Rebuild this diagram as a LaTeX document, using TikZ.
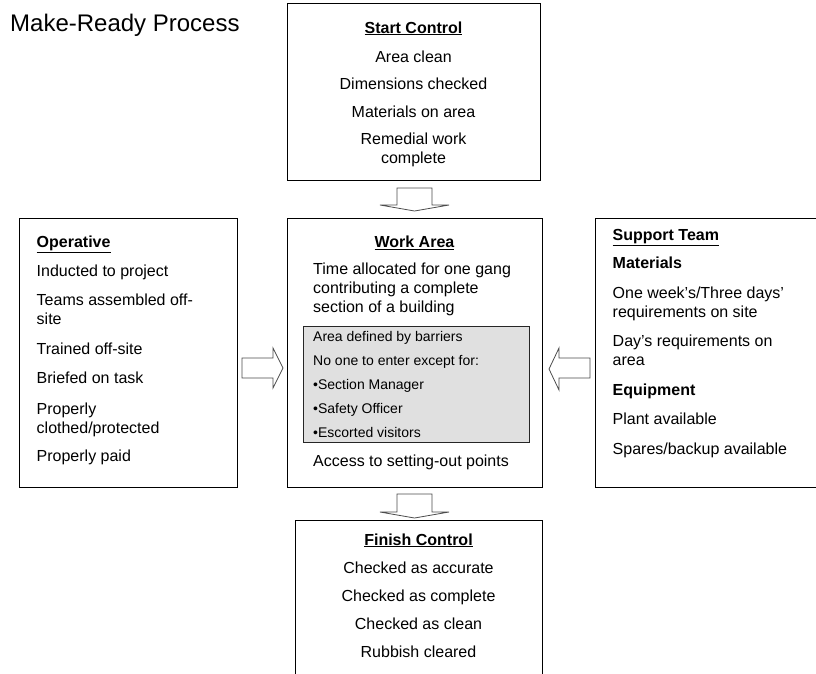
\documentclass[tikz,border=0pt]{standalone}
\usepackage{fontspec}
\setmainfont{Liberation Sans}
\definecolor{graybg}{RGB}{224,224,224}
\begin{document}
\begin{tikzpicture}[x=1pt,y=-1pt,
  box/.style={draw=black, line width=0.9pt, fill=white, inner sep=0pt, anchor=north west},
  shadebox/.style={draw=black!85, line width=0.8pt, fill=graybg, inner sep=0pt, anchor=north west},
  blockarrow/.style={draw=black!70, line width=0.8pt, fill=white, line join=miter},
  ctxt/.style={font=\fontsize{16}{19}\selectfont, inner sep=0pt, align=center, anchor=base},
  ltxt/.style={font=\fontsize{16}{19}\selectfont, inner sep=0pt, align=left, anchor=base west},
  stxt/.style={font=\fontsize{14}{17}\selectfont, inner sep=0pt, align=left, anchor=base west},
  ttl/.style={font=\fontsize{24}{28}\selectfont, inner sep=0pt, anchor=base west}]
\useasboundingbox (0,0) rectangle (816,673);

% title
\node[ttl] (title) at (10,31) {Make-Ready Process};

% boxes
\node[box, minimum width=253pt, minimum height=177pt] (start) at (287,3) {};
\node[box, minimum width=255pt, minimum height=269pt] (work) at (287,218) {};
\node[box, minimum width=218pt, minimum height=269pt] (oper) at (19,218) {};
\node[box, minimum width=230pt, minimum height=269pt] (supp) at (595,218) {};
\node[box, minimum width=247pt, minimum height=170pt] (fin) at (295,520) {};
\node[shadebox, minimum width=226pt, minimum height=116pt] (gray) at (303,326) {};

% block arrows
\draw[blockarrow] (397,188) -- (432,188) -- (432,205) -- (449,205) -- (414.5,211)
  -- (380,205) -- (397,205) -- cycle;
\draw[blockarrow] (397,494) -- (432,494) -- (432,512) -- (449,512) -- (414.5,518)
  -- (380,512) -- (397,512) -- cycle;
\draw[blockarrow] (242,358) -- (273,358) -- (273,348) -- (283,368) -- (273,388)
  -- (273,378) -- (242,378) -- cycle;
\draw[blockarrow] (590,358) -- (559,358) -- (559,348) -- (549,369) -- (559,390)
  -- (559,378) -- (590,378) -- cycle;

% Start Control
\node[ctxt] (s0) at (413.5,33) {\underline{\textbf{Start Control}}};
\node[ctxt] (s1) at (413.5,62) {Area clean};
\node[ctxt] (s2) at (413.5,89.5) {Dimensions checked};
\node[ctxt] (s3) at (413.5,117) {Materials on area};
\node[ctxt] (s4) at (413.5,163.5) {Remedial work\\complete};

% Work Area
\node[ctxt] (w0) at (414.5,247.5) {\underline{\textbf{Work Area}}};
\node[ltxt] (w1) at (313,312.5) {Time allocated for one gang\\contributing a complete\\section of a building};
\node[stxt] (g1) at (313,341) {Area defined by barriers};
\node[stxt] (g2) at (313,365) {No one to enter except for:};
\node[stxt] (g3) at (313,389) {•Section Manager};
\node[stxt] (g4) at (313,413) {•Safety Officer};
\node[stxt] (g5) at (313,437) {•Escorted visitors};
\node[ltxt] (w2) at (313,466) {Access to setting-out points};

% Operative
\node[ltxt] (o0) at (36.5,247.5) {\underline{\textbf{Operative}}};
\node[ltxt] (o1) at (36.5,276.5) {Inducted to project};
\node[ltxt] (o2) at (36.5,324) {Teams assembled off-\\site};
\node[ltxt] (o3) at (36.5,354.5) {Trained off-site};
\node[ltxt] (o4) at (36.5,383.5) {Briefed on task};
\node[ltxt] (o5) at (36.5,433) {Properly\\clothed/protected};
\node[ltxt] (o6) at (36.5,461) {Properly paid};

% Support Team
\node[ltxt] (p0) at (612.5,240) {\underline{\textbf{Support Team}}};
\node[ltxt] (p1) at (612.5,268.5) {\textbf{Materials}};
\node[ltxt] (p2) at (612.5,317) {One week’s/Three days’\\requirements on site};
\node[ltxt] (p3) at (612.5,365) {Day’s requirements on\\area};
\node[ltxt] (p4) at (612.5,395) {\textbf{Equipment}};
\node[ltxt] (p5) at (612.5,424) {Plant available};
\node[ltxt] (p6) at (612.5,454) {Spares/backup available};

% Finish Control
\node[ctxt] (f0) at (418.5,545) {\underline{\textbf{Finish Control}}};
\node[ctxt] (f1) at (418.5,573.5) {Checked as accurate};
\node[ctxt] (f2) at (418.5,601) {Checked as complete};
\node[ctxt] (f3) at (418.5,629) {Checked as clean};
\node[ctxt] (f4) at (418.5,657) {Rubbish cleared};
\end{tikzpicture}
\end{document}
